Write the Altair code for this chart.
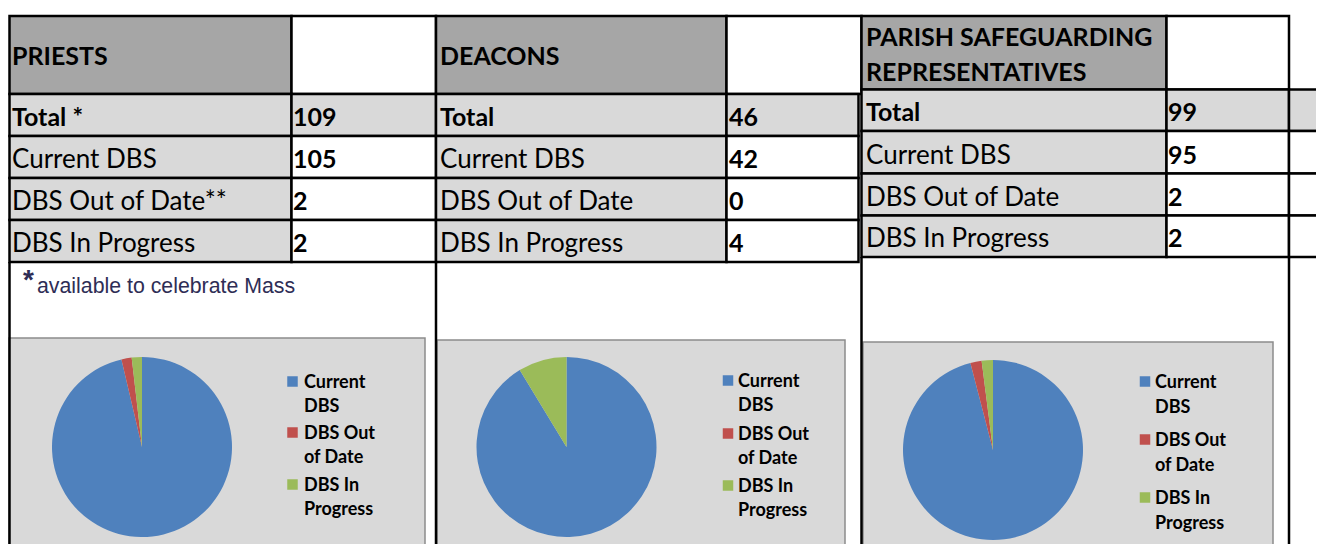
import altair as alt
import pandas as pd

# ---------------- data ----------------
groups = ["PRIESTS", "DEACONS", "PARISH SAFEGUARDING\nREPRESENTATIVES"]
row_labels = [
    ["Total *", "Current DBS", "DBS Out of Date**", "DBS In Progress"],
    ["Total", "Current DBS", "DBS Out of Date", "DBS In Progress"],
    ["Total", "Current DBS", "DBS Out of Date", "DBS In Progress"],
]
totals = [109, 46, 99]
current_dbs = [105, 42, 95]
out_of_date = [2, 0, 2]
in_progress = [2, 4, 2]
categories = ["Current DBS", "DBS Out of Date", "DBS In Progress"]
legend_labels = ["Current\nDBS", "DBS Out\nof Date", "DBS In\nProgress"]
footnote_star = "*"
footnote = "available to celebrate Mass"

# ---------------- styles / layout (page pixels) ----------------
colors = ["#4f81bd", "#c0504d", "#9bbb59"]
HEAD_GRAY = "#a6a6a6"
CELL_GRAY = "#d9d9d9"
W, H = 1308, 536
OX, OY = 8, 8
FONT = "Lato"
FS = 26
FS_BOLD = 25

tables = [
    dict(x0=9.5, xm=291.5, x1=436, hx1=436, ytop=16, rows=[94, 136, 178, 220, 262],
         tx=12, vx=293, hbase=65),
    dict(x0=436, xm=726.5, x1=858.5, hx1=861.5, ytop=16, rows=[94, 136, 178, 220, 262],
         tx=440, vx=729, hbase=65),
    dict(x0=861.5, xm=1166.5, x1=1289, hx1=1289, ytop=16, rows=[89.5, 131, 173.5, 215.5, 257],
         tx=866, vx=1168, hbase=46),
]
pies = [
    dict(cx=142, cy=447, box=(9, 338, 425, 570), sqx=292.5, txx=304, base=[388, 439, 491], lh=23.5),
    dict(cx=566.5, cy=447, box=(437, 340, 845, 570), sqx=728, txx=738, base=[387, 440, 492], lh=24),
    dict(cx=993, cy=450, box=(863, 342, 1273, 570), sqx=1145, txx=1155, base=[388, 446, 504], lh=24.5),
]
R = 90

xs = alt.Scale(domain=[OX, OX + W], nice=False, zero=False)
ys = alt.Scale(domain=[OY, OY + H], nice=False, zero=False, reverse=True)


def X(f):
    return alt.X(f, type="quantitative", scale=xs, axis=None)


def Y(f):
    return alt.Y(f, type="quantitative", scale=ys, axis=None)


# ---------------- build tables ----------------
cells, texts = [], []
for g, t in enumerate(tables):
    vals = [totals[g], current_dbs[g], out_of_date[g], in_progress[g]]
    r = t["rows"]
    cells.append(dict(x0=t["x0"], x1=t["xm"], y0=t["ytop"], y1=r[0], fill=HEAD_GRAY))
    cells.append(dict(x0=t["xm"], x1=t["hx1"], y0=t["ytop"], y1=r[0], fill="white"))
    texts.append(dict(x=t["tx"], y=t["hbase"], text=groups[g], bold=1))
    for i in range(4):
        cells.append(dict(x0=t["x0"], x1=t["xm"], y0=r[i], y1=r[i + 1], fill=CELL_GRAY))
        cells.append(dict(x0=t["xm"], x1=t["x1"], y0=r[i], y1=r[i + 1],
                          fill=CELL_GRAY if i == 0 else "white"))
        base = r[i + 1] - 10
        texts.append(dict(x=t["tx"], y=base, text=row_labels[g][i], bold=1 if i == 0 else 0))
        texts.append(dict(x=t["vx"], y=base, text=str(vals[i]), bold=1))
        if g == 2:
            cells.append(dict(x0=t["x1"], x1=1345, y0=r[i], y1=r[i + 1],
                              fill=CELL_GRAY if i == 0 else "white"))
cells_df = pd.DataFrame(cells)
texts_df = pd.DataFrame(texts)

boxes_df = pd.DataFrame([dict(x0=p["box"][0], y0=p["box"][1], x1=p["box"][2], y1=p["box"][3]) for p in pies])
rules_df = pd.DataFrame([
    dict(x=9.5, y0=262, y1=570), dict(x=436, y0=262, y1=570),
    dict(x=861.5, y0=257, y1=570), dict(x=1289, y0=257, y1=570),
])

layers = []
layers.append(alt.Chart(boxes_df).mark_rect(fill=CELL_GRAY, stroke="#8c8c8c", strokeWidth=1.5).encode(
    x=X("x0"), x2="x1", y=Y("y0"), y2="y1"))
layers.append(alt.Chart(cells_df).mark_rect(stroke="black", strokeWidth=2.5).encode(
    x=X("x0"), x2="x1", y=Y("y0"), y2="y1", fill=alt.Fill("fill:N", scale=None)))
layers.append(alt.Chart(rules_df).mark_rule(color="black", strokeWidth=2.5).encode(
    x=X("x"), y=Y("y0"), y2="y1"))
layers.append(alt.Chart(texts_df).transform_filter("datum.bold == 1").mark_text(
    font=FONT, fontSize=FS_BOLD, fontWeight="bold", align="left", baseline="alphabetic",
    lineBreak="\n", lineHeight=35, color="black").encode(x=X("x"), y=Y("y"), text="text:N"))
layers.append(alt.Chart(texts_df).transform_filter("datum.bold == 0").mark_text(
    font=FONT, fontSize=FS, align="left", baseline="alphabetic", color="black").encode(
    x=X("x"), y=Y("y"), text="text:N"))

# footnote
fn_df = pd.DataFrame([dict(x=23, y=289, text=footnote_star, part="star"),
                      dict(x=37, y=293, text=footnote, part="text")])
layers.append(alt.Chart(fn_df).transform_filter("datum.part == 'star'").mark_text(
    font="Liberation Sans", fontSize=28, fontWeight="bold", align="left", baseline="alphabetic",
    color="#2e2d55").encode(x=X("x"), y=Y("y"), text="text:N"))
layers.append(alt.Chart(fn_df).transform_filter("datum.part == 'text'").mark_text(
    font="Liberation Sans", fontSize=21.3, align="left", baseline="alphabetic",
    color="#2e2d55").encode(x=X("x"), y=Y("y"), text="text:N"))

color_enc = alt.Color("category:N", scale=alt.Scale(domain=categories, range=colors), legend=None)

for g, p in enumerate(pies):
    pie_df = pd.DataFrame({
        "category": categories,
        "value": [current_dbs[g], out_of_date[g], in_progress[g]],
        "order": [0, 1, 2],
    })
    layers.append(alt.Chart(pie_df).mark_arc(radius=R).encode(
        theta=alt.Theta("value:Q", stack=True),
        color=color_enc,
        order=alt.Order("order:Q"),
        x=alt.value(p["cx"] - OX), y=alt.value(p["cy"] - OY)))
    leg_df = pd.DataFrame({
        "category": categories,
        "label": legend_labels,
        "sx": [p["sqx"]] * 3,
        "sy": [b - 6.5 for b in p["base"]],
        "tx": [p["txx"]] * 3,
        "ty": p["base"],
    })
    layers.append(alt.Chart(leg_df).mark_square(size=110, opacity=1, filled=True).encode(
        x=X("sx"), y=Y("sy"), color=color_enc))
    layers.append(alt.Chart(leg_df).mark_text(
        font=FONT, fontSize=18, fontWeight="bold", align="left", baseline="alphabetic",
        lineBreak="\n", lineHeight=p["lh"], color="black").encode(
        x=X("tx"), y=Y("ty"), text="label:N"))

chart = alt.layer(*layers).resolve_scale(theta="independent").properties(
    width=W, height=H, padding=0, autosize=alt.AutoSizeParams(type="none"),
    background="white").configure_view(stroke=None)

chart.save("out.html", embed_options={"renderer": "svg", "actions": False})
